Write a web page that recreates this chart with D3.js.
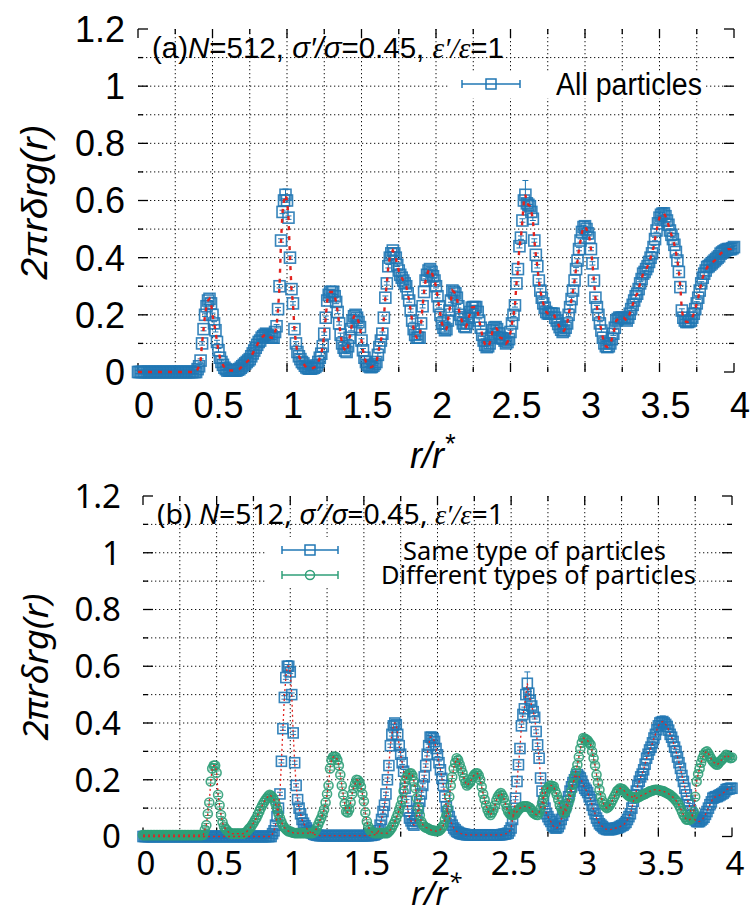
<!DOCTYPE html>
<html>
<head>
<meta charset="utf-8">
<script src="https://cdn.jsdelivr.net/npm/d3@7"></script>
<style>
  body { margin: 0; background: #fff; }
</style>
</head>
<body>
<div id="chart"></div>
<script>
// bin width of the histogram, r/r* from 0 to 4
const rStep = 0.01;
const xTicks = [0, 0.5, 1, 1.5, 2, 2.5, 3, 3.5, 4];
const yTicks = [0, 0.2, 0.4, 0.6, 0.8, 1, 1.2];

// (a) all particles
const allParticles = [
  0,0,0,0,0,0,0,0,0,0,
  0,0,0,0,0,0,0,0,0,0,
  0,0,0,0,0,0,0,0,0,0,
  0,0,0,0,0,0,0,0,0,0,
  0.01,0.02,0.04,0.10,0.15,0.20,0.23,0.25,0.256,0.24,
  0.20,0.17,0.146,0.105,0.076,0.05,0.035,0.025,0.015,0.01,
  0.005,0.005,0.005,0.005,0.005,0.005,0.005,0.008,0.01,0.015,
  0.02,0.025,0.03,0.035,0.04,0.045,0.055,0.065,0.075,0.085,
  0.095,0.105,0.11,0.12,0.125,0.13,0.134,0.13,0.125,0.12,
  0.12,0.12,0.14,0.16,0.22,0.30,0.46,0.56,0.60,0.62,
  0.60,0.54,0.40,0.29,0.24,0.15,0.10,0.07,0.055,0.045,
  0.035,0.03,0.022,0.016,0.013,0.012,0.012,0.013,0.015,0.018,
  0.023,0.035,0.05,0.064,0.09,0.134,0.19,0.25,0.27,0.28,
  0.28,0.28,0.265,0.245,0.21,0.17,0.13,0.10,0.085,0.075,
  0.07,0.09,0.12,0.15,0.18,0.195,0.20,0.19,0.175,0.157,
  0.11,0.076,0.05,0.035,0.025,0.02,0.017,0.018,0.022,0.028,
  0.035,0.06,0.087,0.11,0.134,0.19,0.26,0.31,0.37,0.40,
  0.415,0.425,0.415,0.40,0.375,0.355,0.34,0.33,0.32,0.31,
  0.30,0.275,0.25,0.215,0.18,0.15,0.13,0.12,0.12,0.12,
  0.17,0.23,0.28,0.32,0.34,0.355,0.36,0.35,0.335,0.32,
  0.30,0.265,0.23,0.20,0.17,0.155,0.146,0.15,0.18,0.215,
  0.25,0.285,0.28,0.275,0.26,0.23,0.20,0.185,0.17,0.16,
  0.157,0.17,0.19,0.21,0.225,0.227,0.227,0.227,0.21,0.18,
  0.155,0.13,0.11,0.095,0.087,0.09,0.10,0.12,0.146,0.155,
  0.157,0.15,0.135,0.12,0.118,0.117,0.11,0.10,0.105,0.115,
  0.14,0.17,0.20,0.233,0.31,0.36,0.44,0.47,0.53,0.60,
  0.62,0.59,0.585,0.58,0.56,0.536,0.46,0.41,0.37,0.32,
  0.285,0.26,0.24,0.225,0.21,0.205,0.204,0.204,0.204,0.204,
  0.19,0.18,0.168,0.157,0.148,0.14,0.145,0.155,0.17,0.20,
  0.227,0.255,0.285,0.32,0.36,0.39,0.43,0.46,0.49,0.507,
  0.51,0.50,0.485,0.47,0.43,0.38,0.32,0.26,0.227,0.20,
  0.17,0.145,0.12,0.10,0.09,0.087,0.09,0.10,0.115,0.134,
  0.155,0.18,0.185,0.19,0.19,0.19,0.19,0.185,0.18,0.19,
  0.204,0.22,0.235,0.25,0.265,0.274,0.29,0.31,0.325,0.344,
  0.35,0.36,0.37,0.385,0.40,0.415,0.437,0.465,0.495,0.52,
  0.54,0.55,0.554,0.555,0.545,0.53,0.515,0.495,0.48,0.465,
  0.445,0.42,0.39,0.35,0.297,0.215,0.19,0.18,0.175,0.175,
  0.177,0.18,0.19,0.204,0.22,0.24,0.26,0.285,0.31,0.33,
  0.344,0.355,0.367,0.37,0.375,0.38,0.385,0.39,0.395,0.40,
  0.405,0.414,0.418,0.422,0.425,0.428,0.43,0.43,0.43,0.433,
  0.437
];

// (b) same type of particles
const sameType = [
  0,0,0,0,0,0,0,0,0,0,
  0,0,0,0,0,0,0,0,0,0,
  0,0,0,0,0,0,0,0,0,0,
  0,0,0,0,0,0,0,0,0,0,
  0,0,0,0,0,0,0,0,0,0,
  0,0,0,0,0,0,0,0,0,0,
  0,0,0,0,0,0,0,0,0,0,
  0,0,0,0,0,0,0,0,0,0,
  0,0,0,0,0,0,0,0,0.01,0.02,
  0.04,0.07,0.10,0.15,0.265,0.38,0.49,0.56,0.60,0.60,
  0.58,0.50,0.365,0.26,0.18,0.13,0.10,0.08,0.06,0.047,
  0.038,0.03,0.022,0.018,0.014,0.011,0.008,0.006,0.005,0.004,
  0.003,0.003,0.003,0.003,0.003,0.003,0.003,0.003,0.003,0.003,
  0.003,0.003,0.003,0.003,0.003,0.003,0.003,0.003,0.003,0.003,
  0.003,0.003,0.003,0.003,0.003,0.003,0.003,0.003,0.003,0.003,
  0.003,0.003,0.003,0.003,0.004,0.004,0.005,0.006,0.008,0.012,
  0.02,0.04,0.06,0.088,0.11,0.15,0.20,0.25,0.32,0.36,
  0.39,0.40,0.394,0.36,0.32,0.29,0.26,0.23,0.17,0.124,
  0.09,0.065,0.055,0.045,0.04,0.055,0.076,0.10,0.124,0.15,
  0.18,0.21,0.25,0.29,0.32,0.35,0.35,0.345,0.335,0.31,
  0.288,0.26,0.235,0.205,0.18,0.14,0.105,0.088,0.07,0.053,
  0.04,0.03,0.024,0.018,0.015,0.012,0.01,0.009,0.008,0.007,
  0.006,0.006,0.006,0.006,0.006,0.006,0.006,0.006,0.006,0.006,
  0.006,0.006,0.006,0.006,0.006,0.006,0.006,0.006,0.006,0.006,
  0.006,0.006,0.006,0.006,0.007,0.008,0.009,0.01,0.012,0.02,
  0.03,0.06,0.088,0.135,0.194,0.253,0.31,0.39,0.43,0.45,
  0.50,0.54,0.505,0.48,0.46,0.44,0.42,0.37,0.323,0.276,
  0.206,0.16,0.124,0.10,0.08,0.07,0.06,0.053,0.04,0.035,
  0.03,0.03,0.035,0.045,0.06,0.075,0.088,0.105,0.124,0.14,
  0.16,0.175,0.19,0.20,0.21,0.218,0.212,0.206,0.195,0.18,
  0.17,0.163,0.155,0.14,0.13,0.11,0.094,0.08,0.065,0.055,
  0.045,0.04,0.035,0.03,0.027,0.025,0.024,0.024,0.025,0.026,
  0.028,0.03,0.03,0.032,0.035,0.038,0.04,0.045,0.05,0.06,
  0.07,0.08,0.10,0.124,0.145,0.16,0.18,0.195,0.21,0.22,
  0.235,0.255,0.276,0.29,0.305,0.315,0.33,0.347,0.36,0.376,
  0.39,0.40,0.403,0.405,0.40,0.395,0.388,0.375,0.36,0.35,
  0.335,0.315,0.30,0.28,0.26,0.24,0.215,0.194,0.17,0.147,
  0.125,0.11,0.09,0.075,0.065,0.058,0.053,0.052,0.053,0.058,
  0.062,0.068,0.078,0.088,0.10,0.112,0.122,0.135,0.138,0.14,
  0.141,0.144,0.147,0.15,0.153,0.158,0.165,0.167,0.168,0.17,
  0.17
];

// (b) different types of particles
const diffType = [
  0.005,0.005,0.005,0.005,0.005,0.005,0.005,0.005,0.005,0.005,
  0.005,0.005,0.005,0.005,0.005,0.005,0.005,0.005,0.005,0.005,
  0.005,0.005,0.005,0.005,0.005,0.005,0.005,0.005,0.005,0.005,
  0.005,0.005,0.005,0.005,0.005,0.005,0.005,0.005,0.005,0.005,
  0.005,0.006,0.024,0.04,0.08,0.12,0.194,0.24,0.25,0.25,
  0.225,0.147,0.11,0.076,0.05,0.035,0.027,0.022,0.016,0.012,
  0.01,0.01,0.01,0.01,0.01,0.01,0.01,0.01,0.01,0.012,
  0.015,0.02,0.027,0.032,0.04,0.048,0.057,0.065,0.077,0.088,
  0.10,0.11,0.12,0.128,0.135,0.142,0.147,0.143,0.138,0.128,
  0.115,0.098,0.08,0.065,0.052,0.04,0.032,0.026,0.021,0.018,
  0.018,0.015,0.013,0.012,0.012,0.012,0.012,0.012,0.012,0.012,
  0.012,0.012,0.012,0.012,0.012,0.012,0.014,0.02,0.03,0.042,
  0.055,0.065,0.08,0.095,0.12,0.15,0.18,0.24,0.27,0.28,
  0.282,0.28,0.27,0.25,0.218,0.18,0.147,0.115,0.088,0.085,
  0.095,0.12,0.15,0.17,0.185,0.20,0.198,0.19,0.175,0.15,
  0.124,0.085,0.053,0.035,0.024,0.018,0.014,0.012,0.012,0.012,
  0.012,0.012,0.012,0.012,0.012,0.012,0.012,0.018,0.024,0.032,
  0.042,0.052,0.065,0.078,0.095,0.11,0.13,0.16,0.194,0.208,
  0.218,0.222,0.223,0.215,0.195,0.17,0.135,0.10,0.075,0.053,
  0.042,0.035,0.032,0.03,0.027,0.024,0.022,0.021,0.02,0.019,
  0.019,0.02,0.025,0.032,0.04,0.06,0.075,0.10,0.14,0.18,
  0.21,0.24,0.26,0.276,0.27,0.255,0.24,0.225,0.206,0.19,
  0.18,0.185,0.19,0.20,0.21,0.218,0.222,0.223,0.215,0.20,
  0.175,0.15,0.13,0.11,0.094,0.082,0.076,0.085,0.095,0.11,
  0.128,0.14,0.148,0.153,0.145,0.135,0.118,0.10,0.088,0.08,
  0.076,0.076,0.076,0.08,0.088,0.094,0.10,0.103,0.106,0.106,
  0.106,0.106,0.103,0.10,0.092,0.084,0.08,0.077,0.076,0.085,
  0.10,0.118,0.135,0.15,0.165,0.172,0.178,0.18,0.178,0.176,
  0.16,0.147,0.13,0.112,0.10,0.09,0.082,0.088,0.10,0.118,
  0.135,0.16,0.185,0.21,0.232,0.253,0.28,0.31,0.33,0.347,
  0.345,0.342,0.338,0.33,0.323,0.30,0.276,0.25,0.218,0.19,
  0.165,0.14,0.125,0.112,0.105,0.10,0.104,0.11,0.12,0.13,
  0.14,0.15,0.16,0.165,0.17,0.168,0.166,0.16,0.153,0.147,
  0.143,0.141,0.14,0.138,0.136,0.135,0.137,0.14,0.143,0.146,
  0.148,0.15,0.153,0.156,0.159,0.16,0.162,0.164,0.165,0.165,
  0.164,0.162,0.161,0.16,0.158,0.155,0.152,0.15,0.147,0.142,
  0.138,0.132,0.127,0.12,0.11,0.10,0.088,0.076,0.068,0.06,
  0.059,0.059,0.062,0.075,0.088,0.14,0.194,0.22,0.24,0.26,
  0.276,0.288,0.297,0.30,0.292,0.282,0.273,0.265,0.26,0.255,
  0.253,0.258,0.265,0.27,0.276,0.28,0.288,0.285,0.28,0.276,
  0.278
];

// error bars: typical half-width, and the larger ones seen at the peaks
const baseErr = 0.006;
const allErr = [[0.99, 0.02], [2.60, 0.05], [3.00, 0.015], [3.53, 0.02]];
const sameErr = [[0.99, 0.02], [1.96, 0.012], [2.61, 0.04], [3.53, 0.02]];
const diffErr = [[3.00, 0.012]];

const blue = '#2077b4';
const green = '#2f9f78';
const red = '#e3231f';

const rBins = allParticles.map((v, i) => +(i * rStep).toFixed(2));

const svg = d3.select('#chart').append('svg')
    .attr('width', 752)
    .attr('height', 914);

function panel (p) {
    const x = d3.scaleLinear().domain([0, 4]).range([p.left, p.right]);
    const y = d3.scaleLinear().domain([0, 1.2]).range([p.bottom, p.top]);
    const g = svg.append('g');

    const xGrid = d3.range(0, 4.001, 0.25);
    const yGrid = d3.range(0, 1.2001, 0.1);
    const dots = '1.3,2.7';

    // horizontal grid, legend box, then vertical grid
    g.append('g').selectAll('line')
        .data(yGrid.filter(d => d > 0.01 && d < 1.19))
        .join('line')
        .attr('x1', p.left).attr('x2', p.right)
        .attr('y1', d => y(d)).attr('y2', d => y(d))
        .attr('stroke', '#111').attr('stroke-dasharray', dots);
    const lh = p.boxH;
    g.append('rect').attr('x', lh[0]).attr('y', lh[2])
        .attr('width', lh[1] - lh[0]).attr('height', lh[3] - lh[2]).attr('fill', '#fff');
    g.append('g').selectAll('line')
        .data(xGrid.filter(d => d > 0.01 && d < 3.99))
        .join('line')
        .attr('x1', d => x(d)).attr('x2', d => x(d))
        .attr('y1', p.top).attr('y2', p.bottom)
        .attr('stroke', '#111').attr('stroke-dasharray', dots);
    const lv = p.boxV;
    g.append('rect').attr('x', lv[0]).attr('y', lv[2])
        .attr('width', lv[1] - lv[0]).attr('height', lv[3] - lv[2]).attr('fill', '#fff');

    // frame and inward ticks on all four sides
    const tk = g.append('g').attr('stroke', '#000').attr('stroke-width', 1.3);
    xGrid.forEach(d => {
        const len = Math.abs(d * 2 - Math.round(d * 2)) < 1e-6 ? 9 : 5;
        tk.append('line').attr('x1', x(d)).attr('x2', x(d)).attr('y1', p.bottom).attr('y2', p.bottom - len);
        tk.append('line').attr('x1', x(d)).attr('x2', x(d)).attr('y1', p.top).attr('y2', p.top + len);
    });
    yGrid.forEach(d => {
        const len = Math.abs(d * 5 - Math.round(d * 5)) < 1e-6 ? 10 : 5;
        tk.append('line').attr('x1', p.left).attr('x2', p.left + len).attr('y1', y(d)).attr('y2', y(d));
        tk.append('line').attr('x1', p.right).attr('x2', p.right - len).attr('y1', y(d)).attr('y2', y(d));
    });

    // tick labels
    g.append('g').selectAll('text').data(xTicks).join('text')
        .attr('x', d => x(d) + p.xLabDx)
        .attr('y', p.xLabBase)
        .attr('text-anchor', 'middle')
        .attr('font-family', p.font).attr('font-size', p.tickSize)
        .text(d => String(d));
    g.append('g').selectAll('text').data(yTicks).join('text')
        .attr('x', p.yLabRight)
        .attr('y', d => y(d))
        .attr('dy', '0.36em')
        .attr('text-anchor', 'end')
        .attr('font-family', p.font).attr('font-size', p.tickSize)
        .text(d => String(d));

    // axis titles
    g.append('text')
        .attr('transform', `translate(${p.yTitle[0]},${p.yTitle[1]}) rotate(-90)`)
        .attr('text-anchor', 'middle')
        .attr('font-family', p.font).attr('font-size', p.titleSize)
        .attr('font-style', 'italic')
        .attr('textLength', p.yTitle[2]).attr('lengthAdjust', 'spacingAndGlyphs')
        .text('2πrδrg(r)');
    const xt = g.append('text')
        .attr('x', p.xTitle[0]).attr('y', p.xTitle[1])
        .attr('font-family', p.font).attr('font-size', p.xTitleSize)
        .attr('font-style', 'italic');
    xt.append('tspan').text('r/r');
    xt.append('tspan').attr('dy', -15).attr('font-size', p.xTitleSize * 0.75).text('*');

    // heading inside the frame
    const hd = g.append('text')
        .attr('x', p.head[0]).attr('y', p.head[1])
        .attr('font-family', p.font).attr('font-size', p.headSize)
        .attr('textLength', p.head[2]).attr('lengthAdjust', 'spacingAndGlyphs');
    p.headParts.forEach(([t, style]) => {
        const ts = hd.append('tspan').text(t);
        if (style === 'i') ts.attr('font-style', 'italic');
        if (style === 's') ts.attr('font-style', 'italic').attr('font-family', 'Liberation Serif');
    });

    // series: error bars, markers, then the red guide line
    p.series.forEach(s => {
        const errs = new Map(s.err.map(([r, e]) => [r.toFixed(2), e]));
        const pts = s.values.map((v, i) => ({ r: rBins[i], v: v, e: errs.get(rBins[i].toFixed(2)) || baseErr }));
        const sg = g.append('g');
        sg.append('path')
            .attr('fill', 'none').attr('stroke', s.color).attr('stroke-width', 1)
            .attr('d', pts.map(d => {
                const x0 = x(d.r), y0 = y(d.v - d.e), y1 = y(d.v + d.e);
                return `M${x0},${y0}V${y1}M${x0 - 3},${y0}h6M${x0 - 3},${y1}h6`;
            }).join(''));
        if (s.shape === 'square') {
            sg.selectAll('rect').data(pts).join('rect')
                .attr('x', d => x(d.r) - p.mk / 2).attr('y', d => y(d.v) - p.mk / 2)
                .attr('width', p.mk).attr('height', p.mk)
                .attr('fill', 'none').attr('stroke', s.color).attr('stroke-width', 1.6)
                .attr('stroke-opacity', 0.9);
        } else {
            sg.selectAll('circle').data(pts).join('circle')
                .attr('cx', d => x(d.r)).attr('cy', d => y(d.v)).attr('r', p.mk / 2 - 0.5)
                .attr('fill', 'none').attr('stroke', s.color).attr('stroke-width', 1.6)
                .attr('stroke-opacity', 0.9);
        }
        s.pts = pts;
    });
    p.series.forEach(s => {
        g.append('path').datum(s.pts)
            .attr('fill', 'none').attr('stroke', red)
            .attr('stroke-width', p.redW).attr('stroke-dasharray', p.redDash)
            .attr('d', d3.line().x(d => x(d.r)).y(d => y(d.v)));
    });

    // legend
    p.series.forEach(s => {
        const lg = s.legend;
        const lgG = g.append('g').attr('stroke', s.color).attr('fill', 'none').attr('stroke-width', 1.5);
        lgG.append('line').attr('x1', lg.x0).attr('x2', lg.x1).attr('y1', lg.y).attr('y2', lg.y);
        lgG.append('line').attr('x1', lg.x0).attr('x2', lg.x0).attr('y1', lg.y - 4).attr('y2', lg.y + 4);
        lgG.append('line').attr('x1', lg.x1).attr('x2', lg.x1).attr('y1', lg.y - 4).attr('y2', lg.y + 4);
        const cx = (lg.x0 + lg.x1) / 2;
        if (s.shape === 'square') {
            lgG.append('rect').attr('x', cx - 5).attr('y', lg.y - 5).attr('width', 10).attr('height', 10);
        } else {
            lgG.append('circle').attr('cx', cx).attr('cy', lg.y).attr('r', 4.5);
        }
        g.append('text')
            .attr('x', lg.tx).attr('y', lg.ty)
            .attr('font-family', p.font).attr('font-size', p.legSize)
            .attr('textLength', lg.tw).attr('lengthAdjust', 'spacingAndGlyphs')
            .text(s.name);
    });
}

panel({
    left: 138, right: 734, top: 29, bottom: 372,
    font: 'Liberation Sans, Arial, sans-serif',
    tickSize: 36, titleSize: 36, xTitleSize: 36, headSize: 29, legSize: 31,
    xLabDx: 6, xLabBase: 418, yLabRight: 125,
    yTitle: [47, 202, 155], xTitle: [410, 468],
    head: [152, 58, 352],
    headParts: [['(a)', ''], ['N', 'i'], ['=512, ', ''], ['σ′/σ', 'i'], ['=0.45, ', ''], ['ε′/ε', 's'], ['=1', '']],
    boxH: [448, 704, 71, 98], boxV: [448, 704, 71, 98],
    mk: 11, redW: 2.4, redDash: '4,6',
    series: [
        { name: 'All particles', values: allParticles, err: allErr, color: blue, shape: 'square',
          legend: { x0: 462, x1: 520, y: 84, tx: 556, ty: 95, tw: 146 } }
    ]
});

panel({
    left: 143, right: 732, top: 496, bottom: 836.5,
    font: '"Noto Sans", sans-serif',
    tickSize: 33, titleSize: 34, xTitleSize: 32, headSize: 27, legSize: 25,
    xLabDx: 3, xLabBase: 875, yLabRight: 121,
    yTitle: [48, 667, 147], xTitle: [411, 905],
    head: [157, 524, 347],
    headParts: [['(b) ', ''], ['N', 'i'], ['=512,  ', ''], ['σ′/σ', 'i'], ['=0.45,  ', ''], ['ε′/ε', 's'], ['=1', '']],
    boxH: [266, 697, 537, 590], boxV: [266, 348, 537, 587],
    mk: 10, redW: 1.3, redDash: '2,3',
    series: [
        { name: 'Same type of particles', values: sameType, err: sameErr, color: blue, shape: 'square',
          legend: { x0: 282, x1: 338, y: 550, tx: 403, ty: 560, tw: 263 } },
        { name: 'Different types of particles', values: diffType, err: diffErr, color: green, shape: 'circle',
          legend: { x0: 282, x1: 338, y: 575, tx: 381, ty: 584, tw: 315 } }
    ]
});
</script>
</body>
</html>
